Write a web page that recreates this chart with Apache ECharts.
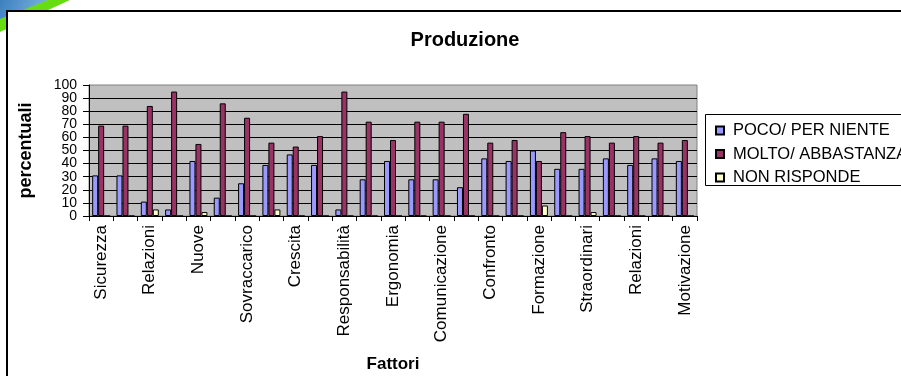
<!DOCTYPE html>
<html>
<head>
<meta charset="utf-8">
<script src="https://cdn.jsdelivr.net/npm/echarts@6/dist/echarts.min.js"></script>
<style>
  html, body { margin: 0; padding: 0; background: #fff; }
  #chart { width: 901px; height: 376px; }
</style>
</head>
<body>
<div id="chart"></div>
<script>
// Fattori (categorie) — solo una etichetta su due viene mostrata sull'asse
const fattori = [
  'Sicurezza', 'Ambiente', 'Relazioni', 'Autonomia', 'Nuove', 'Tecnologie',
  'Sovraccarico', 'Ritmi', 'Crescita', 'Ruolo', 'Responsabilità', 'Orari',
  'Ergonomia', 'Pause', 'Comunicazione', 'Informazione', 'Confronto', 'Colleghi',
  'Formazione', 'Carriera', 'Straordinari', 'Turni', 'Relazioni', 'Riconoscimento',
  'Motivazione'
];

const pocoPerNiente = [31, 31, 11, 5, 42, 14, 25, 39, 47, 39, 5, 28, 42, 28, 28, 22, 44, 42, 50, 36, 36, 44, 39, 44, 42];
const moltoAbbastanza = [69, 69, 84, 95, 55, 86, 75, 56, 53, 61, 95, 72, 58, 72, 72, 78, 56, 58, 42, 64, 61, 56, 61, 56, 58];
const nonRisponde = [0, 0, 5, 0, 3, 0, 0, 5, 0, 0, 0, 0, 0, 0, 0, 0, 0, 0, 8, 0, 3, 0, 0, 0, 0];

const serieNomi = ['POCO/ PER NIENTE', 'MOLTO/ ABBASTANZA', 'NON RISPONDE'];
const serieColori = ['#9999FF', '#993366', '#FFFFCC'];

const FONT = 'Arial, "Liberation Sans", sans-serif';

const chart = echarts.init(document.getElementById('chart'), null, { renderer: 'canvas' });

function barSeries(name, data, color) {
  return {
    name: name,
    type: 'bar',
    data: data,
    yAxisIndex: 0,
    barWidth: 6,
    barGap: '0%',
    itemStyle: { color: color, borderColor: '#000', borderWidth: 1 },
    emphasis: { disabled: true }
  };
}

const labelStyle = { fontFamily: FONT, fontSize: 14, color: '#000', margin: 12 };

chart.setOption({
  animation: false,
  backgroundColor: '#fff',
  textStyle: { fontFamily: FONT },
  title: {
    text: 'Produzione',
    left: 460,
    top: 25,
    textAlign: 'center',
    textStyle: { fontFamily: FONT, fontSize: 20, fontWeight: 'bold', color: '#000' }
  },
  graphic: [
    // decorazione nell'angolo in alto a sinistra
    { type: 'polygon', z: -20, shape: { points: [[0, 0], [70, 0], [0, 32]] },
      style: { fill: '#66DD11' } },
    { type: 'polygon', z: -19, shape: { points: [[0, 0], [48, 0], [0, 19]] },
      style: { fill: new echarts.graphic.LinearGradient(0, 0, 1, 1, [
        { offset: 0, color: '#3d7fc0' }, { offset: 1, color: '#7fb8e0' }]) } },
    // cornice del grafico
    { type: 'rect', z: -10, shape: { x: 7, y: 11, width: 1000, height: 500 },
      style: { fill: '#fff', stroke: '#000', lineWidth: 2 } },
    // riquadro della legenda
    { type: 'rect', z: -5, shape: { x: 705.5, y: 114.5, width: 300, height: 71 },
      style: { fill: '#fff', stroke: '#000', lineWidth: 1 } }
  ],
  legend: {
    orient: 'vertical',
    left: 710,
    top: 117,
    itemWidth: 8,
    itemHeight: 8,
    itemGap: 6.5,
    icon: 'rect',
    selectedMode: false,
    textStyle: { fontFamily: FONT, fontSize: 16.5, color: '#000', padding: [0, 0, 0, 4] },
    data: serieNomi
  },
  grid: {
    left: 89,
    right: 204,
    top: 85,
    bottom: 160,
    show: true,
    backgroundColor: '#C0C0C0',
    borderColor: '#808080',
    borderWidth: 1
  },
  xAxis: {
    type: 'category',
    data: fattori,
    name: 'Fattori',
    nameLocation: 'middle',
    nameGap: 140,
    nameTextStyle: { fontFamily: FONT, fontSize: 17, fontWeight: 'bold', color: '#000' },
    axisLine: { lineStyle: { color: '#000', width: 1 } },
    axisTick: { show: true, interval: 0, length: 5, lineStyle: { color: '#000' } },
    axisLabel: {
      interval: 1,
      rotate: 90,
      margin: 9,
      fontFamily: FONT,
      fontSize: 17,
      color: '#000'
    }
  },
  yAxis: [
    {
      // asse principale: linee, tacche ed etichette delle decine pari
      type: 'value',
      min: 0,
      max: 100,
      interval: 10,
      name: 'percentuali',
      nameLocation: 'middle',
      nameGap: 54,
      nameRotate: 90,
      nameTextStyle: { fontFamily: FONT, fontSize: 18, fontWeight: 'bold', color: '#000' },
      axisLine: { show: true, lineStyle: { color: '#000', width: 1 } },
      axisTick: { show: true, length: 6, lineStyle: { color: '#000' } },
      axisLabel: Object.assign({}, labelStyle, {
        showMinLabel: true, showMaxLabel: true, hideOverlap: false,
        formatter: function (v) { return v % 20 === 0 ? String(v) : ''; }
      }),
      splitLine: { show: true, showMinLine: false, showMaxLine: false, lineStyle: { color: '#000', width: 1 } }
    },
    {
      // stesso asse, solo per le etichette delle decine dispari
      type: 'value',
      position: 'left',
      min: 0,
      max: 100,
      interval: 10,
      axisLine: { show: false },
      axisTick: { show: false },
      splitLine: { show: false },
      axisLabel: Object.assign({}, labelStyle, {
        showMinLabel: false, showMaxLabel: false, hideOverlap: false,
        formatter: function (v) { return v % 20 === 10 ? String(v) : ''; }
      })
    }
  ],
  series: [
    barSeries(serieNomi[0], pocoPerNiente, serieColori[0]),
    barSeries(serieNomi[1], moltoAbbastanza, serieColori[1]),
    barSeries(serieNomi[2], nonRisponde, serieColori[2])
  ]
});
</script>
</body>
</html>
